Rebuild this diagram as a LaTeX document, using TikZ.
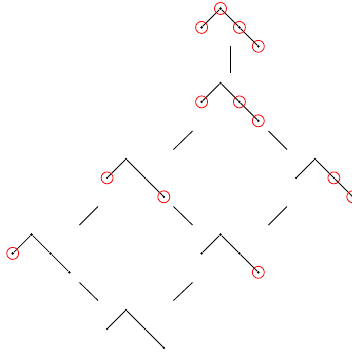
\documentclass[tikz,border=0pt]{standalone}
\begin{document}
\begin{tikzpicture}[x=1pt,y=-1pt,
  vtx/.style={circle,fill=black,inner sep=0pt,minimum size=2.8pt},
  ring/.style={circle,draw=red,line width=0.8pt,minimum size=12pt,inner sep=0pt},
  edge/.style={line width=0.8pt},
  link/.style={line width=0.8pt},
  tree/.pic={
    \node[vtx] (-r) at (0,0) {};
    \node[vtx] (-l) at (-18.9,18.9) {};
    \node[vtx] (-c) at (18.9,18.9) {};
    \node[vtx] (-cc) at (37.8,37.8) {};
    \draw[edge] (-r) -- (-l) (-r) -- (-c) -- (-cc);
  }]
\useasboundingbox (0,0) rectangle (352,354);
% trees
\pic (A) at (220.5,8.5) {tree};
\pic (B) at (220.5,83) {tree};
\pic (C) at (126,159) {tree};
\pic (D) at (315,159) {tree};
\pic (E) at (31.6,234.5) {tree};
\pic (G) at (220.5,234.5) {tree};
\pic (F) at (126,310) {tree};
% red rings
\foreach \n in {A-r,A-l,A-c,A-cc,B-l,B-c,B-cc,C-l,C-cc,D-c,D-cc,E-l,G-cc}
  \node[ring] at (\n) {};
% connector ends
\coordinate (ab1) at (230,46);    \coordinate (ab2) at (230,73);
\coordinate (bc1) at (192.5,131); \coordinate (bc2) at (173.5,149.5);
\coordinate (bd1) at (268.5,131); \coordinate (bd2) at (287,149.5);
\coordinate (ce1) at (98,206.5);  \coordinate (ce2) at (79.5,225);
\coordinate (cg1) at (173.5,206.5); \coordinate (cg2) at (192.5,225);
\coordinate (dg1) at (287,206.5); \coordinate (dg2) at (268.5,225);
\coordinate (ef1) at (79.5,282.5); \coordinate (ef2) at (98,300.5);
\coordinate (gf1) at (192.5,282.5); \coordinate (gf2) at (173.5,300.5);
\draw[link] (ab1) -- (ab2);
\draw[link] (bc1) -- (bc2);
\draw[link] (bd1) -- (bd2);
\draw[link] (ce1) -- (ce2);
\draw[link] (cg1) -- (cg2);
\draw[link] (dg1) -- (dg2);
\draw[link] (ef1) -- (ef2);
\draw[link] (gf1) -- (gf2);
\end{tikzpicture}
\end{document}
